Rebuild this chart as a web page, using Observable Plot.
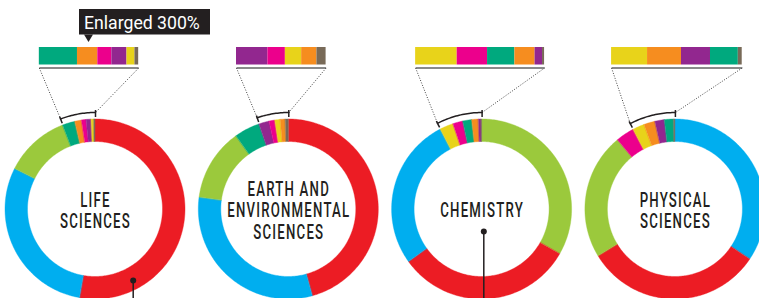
<!DOCTYPE html>
<html><head><meta charset="utf-8">
<script src="https://cdn.jsdelivr.net/npm/d3@7"></script>
<script src="https://cdn.jsdelivr.net/npm/@observablehq/plot@0.6"></script>
<style>
html,body{margin:0;padding:0;background:#fff;}
#chart svg{display:block;}
</style>
</head><body><div id="chart"></div>
<script>
// ---- data ----
const fields = ["LIFE\nSCIENCES", "EARTH AND\nENVIRONMENTAL\nSCIENCES", "CHEMISTRY", "PHYSICAL\nSCIENCES"];
const categories = ["cat1","cat2","cat3","cat4","cat5","cat6","cat7","cat8","cat9"];
const palette    = ["#ec1c24","#00aeef","#9bc93c","#00a97e","#f68d1f","#ec008c","#92278f","#e8d31a","#786a58"];
const lifeSlices  = ["cat1","cat2","cat3","cat4","cat5","cat6","cat7","cat8","cat9"];
const lifeValues  = [52.8, 29.7, 11.7, 2.25, 1.2, 0.83, 0.89, 0.47, 0.22];
const earthSlices = ["cat1","cat2","cat3","cat4","cat7","cat6","cat8","cat5","cat9"];
const earthValues = [45.7, 31.4, 13.0, 4.6, 1.85, 1.03, 0.96, 0.9, 0.54];
const chemSlices  = ["cat3","cat1","cat2","cat8","cat6","cat4","cat5","cat7","cat9"];
const chemValues  = [33.3, 31.8, 27.3, 2.45, 1.79, 1.61, 1.19, 0.44, 0.12];
const physSlices  = ["cat2","cat1","cat3","cat6","cat8","cat5","cat7","cat4","cat9"];
const physValues  = [34.4, 31.9, 22.7, 3.3, 2.12, 2.0, 1.71, 1.64, 0.23];
const enlargedFrom = [3, 4, 3, 4];   // first slice shown in the enlarged strip
const enlargement = 3;               // 300%
const calloutText = "Enlarged 300%";

// ---- layout ----
const W = 759, H = 298;
const cx0 = 95, panelStep = 193.3, cy = 209;
const rOuter = 90, rInner = 67.5;
const stripOffset = [-6.5, -7.5, -2, 1.5];
const stripTop = 47, stripBottom = 64.5, stripRule = 67.5;
const bracketR = 97, tickR0 = 92.5, tickR1 = 99.5;
const pointers = [{panel: 0, dx: 37.7, dy: 71}, {panel: 2, dx: 1.7, dy: 22}];

const panels = [
  {label: fields[0], slices: lifeSlices,  values: lifeValues},
  {label: fields[1], slices: earthSlices, values: earthValues},
  {label: fields[2], slices: chemSlices,  values: chemValues},
  {label: fields[3], slices: physSlices,  values: physValues}
];

const TAU = 2 * Math.PI, deg = Math.PI / 180;
const ringPts = [], stripRects = [], rules = [], bracketPts = [], ticks = [], leaders = [], labels = [];
panels.forEach((p, i) => {
  const cx = cx0 + i * panelStep;
  const total = d3.sum(p.values);
  let cum = 0;
  p.slices.forEach((key, j) => {
    const a0 = cum / total * TAU; cum += p.values[j]; const a1 = cum / total * TAU;
    const n = Math.max(2, Math.ceil((a1 - a0) / deg) + 1);
    for (let k = 0; k < n; k++) {
      const a = a0 + (a1 - a0) * k / (n - 1);
      ringPts.push({id: i + "-" + j, key,
        x1: cx + rInner * Math.sin(a), y1: cy - rInner * Math.cos(a),
        x2: cx + rOuter * Math.sin(a), y2: cy - rOuter * Math.cos(a)});
    }
  });
  const from = enlargedFrom[i];
  const startFrac = d3.sum(p.values.slice(0, from)) / total;
  const pxPerFrac = enlargement * TAU * rOuter;
  const width = (1 - startFrac) * pxPerFrac;
  const sx0 = cx + stripOffset[i] - width / 2;
  let sc = sx0;
  for (let j = from; j < p.slices.length; j++) {
    const w = p.values[j] / total * pxPerFrac;
    stripRects.push({key: p.slices[j], x1: sc, x2: sc + w, y1: stripTop, y2: stripBottom});
    sc += w;
  }
  rules.push({x1: sx0, x2: sx0 + width, y1: stripRule, y2: stripRule});
  const b0 = startFrac * TAU, b1 = TAU;
  const nb = Math.ceil((b1 - b0) / deg) + 1;
  for (let k = 0; k < nb; k++) {
    const a = b0 + (b1 - b0) * k / (nb - 1);
    bracketPts.push({panel: i, x: cx + bracketR * Math.sin(a), y: cy - bracketR * Math.cos(a)});
  }
  [b0, b1].forEach(a => ticks.push({
    x1: cx + tickR0 * Math.sin(a), y1: cy - tickR0 * Math.cos(a),
    x2: cx + tickR1 * Math.sin(a), y2: cy - tickR1 * Math.cos(a)}));
  leaders.push({x1: sx0, y1: stripRule, x2: cx + bracketR * Math.sin(b0), y2: cy - bracketR * Math.cos(b0)});
  leaders.push({x1: sx0 + width, y1: stripRule, x2: cx + bracketR * Math.sin(b1), y2: cy - bracketR * Math.cos(b1)});
  labels.push({x: cx, y: cy + 1, text: p.label});
});

const pointerDots = pointers.map(d => ({x: cx0 + d.panel * panelStep + d.dx, y: cy + d.dy}));
const pointerLines = pointerDots.map(d => ({x1: d.x, y1: d.y, x2: d.x, y2: cy + rOuter + 20}));

const callBox = [{x1: 79, x2: 210, y1: 9, y2: 34.5}];
const callTip = [{x: 83.5, y: 34}, {x: 92.5, y: 34}, {x: 88, y: 41.5}];
const callLabel = [{x: 83.5, y: 22, text: calloutText}];

const fontCond = "Roboto, 'Liberation Sans', sans-serif";

const svg = Plot.plot({
  width: W, height: H,
  margin: 0, marginTop: 0, marginRight: 0, marginBottom: 0, marginLeft: 0,
  x: {type: "linear", domain: [0, W], range: [0, W], axis: null},
  y: {type: "linear", domain: [0, H], range: [0, H], axis: null},
  color: {type: "ordinal", domain: categories, range: palette},
  marks: [
    Plot.area(ringPts, {x1: "x1", y1: "y1", x2: "x2", y2: "y2", z: "id", fill: "key", stroke: "key", strokeWidth: 0.4}),
    Plot.rect(stripRects, {x1: "x1", x2: "x2", y1: "y1", y2: "y2", fill: "key", inset: 0}),
    Plot.link(rules, {x1: "x1", y1: "y1", x2: "x2", y2: "y2", stroke: "#8a8a8a", strokeWidth: 2.2}),
    Plot.link(leaders, {x1: "x1", y1: "y1", x2: "x2", y2: "y2", stroke: "#444", strokeWidth: 1, strokeDasharray: "1,1.6"}),
    Plot.line(bracketPts, {x: "x", y: "y", z: "panel", stroke: "#231f20", strokeWidth: 1.5}),
    Plot.link(ticks, {x1: "x1", y1: "y1", x2: "x2", y2: "y2", stroke: "#231f20", strokeWidth: 1.5}),
    Plot.link(pointerLines, {x1: "x1", y1: "y1", x2: "x2", y2: "y2", stroke: "#231f20", strokeWidth: 1.5}),
    Plot.dot(pointerDots, {x: "x", y: "y", r: 3, fill: "#231f20"}),
    Plot.rect(callBox, {x1: "x1", x2: "x2", y1: "y1", y2: "y2", fill: "#231f20"}),
    Plot.line(callTip, {x: "x", y: "y", fill: "#231f20", stroke: null}),
    Plot.text(callLabel, {x: "x", y: "y", text: "text", textAnchor: "start", fill: "#fff",
      fontSize: 19, fontFamily: fontCond}),
    Plot.text(labels, {x: "x", y: "y", text: "text", fill: "#231f20", fontSize: 21, lineHeight: 1.03,
      fontWeight: 500, fontFamily: fontCond})
  ]
});

function squeeze(group, sx, spacing) {
  if (!group) return;
  d3.select(group).selectAll("text").each(function() {
    let t = this.getAttribute("transform");
    if (!t) {
      const x = this.getAttribute("x") || 0, y = this.getAttribute("y") || 0;
      this.removeAttribute("x"); this.removeAttribute("y");
      t = `translate(${x},${y})`;
    }
    this.setAttribute("transform", t + ` scale(${sx},1)`);
    if (spacing) this.style.letterSpacing = spacing + "px";
  });
}
const textGroups = svg.querySelectorAll('g[aria-label="text"]');
squeeze(textGroups[0], 0.93, 0);
squeeze(textGroups[1], 0.63, 1.9);

document.getElementById("chart").appendChild(svg);
</script>
</body></html>
